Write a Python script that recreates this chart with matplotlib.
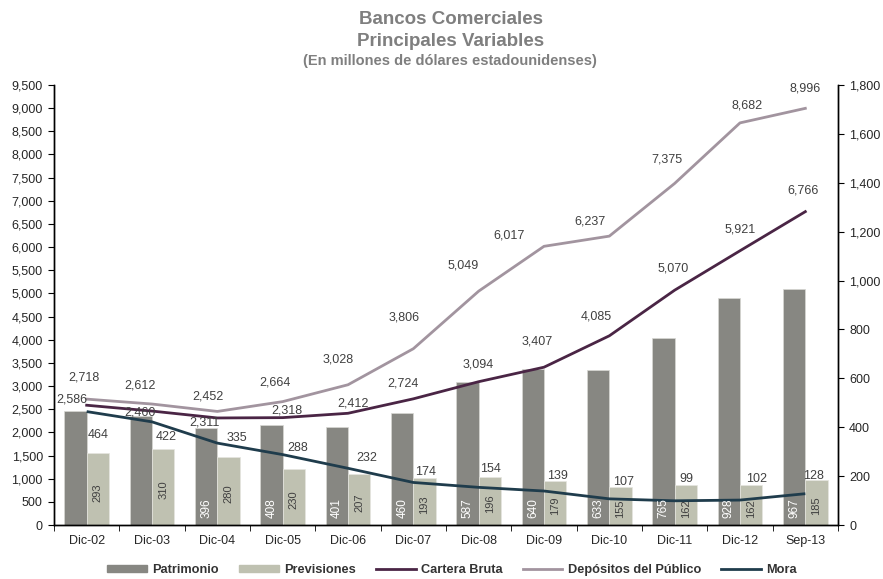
import matplotlib
matplotlib.use("Agg")
import matplotlib.pyplot as plt
import numpy as np
from matplotlib.patches import Patch
from matplotlib.lines import Line2D

plt.rcParams['font.family'] = ['Liberation Sans', 'DejaVu Sans']

categories = ["Dic-02", "Dic-03", "Dic-04", "Dic-05", "Dic-06", "Dic-07",
              "Dic-08", "Dic-09", "Dic-10", "Dic-11", "Dic-12", "Sep-13"]
patrimonio = [468, 445, 396, 408, 401, 460, 587, 640, 633, 765, 928, 967]
patrimonio_labels = [None, None, "396", "408", "401", "460", "587", "640", "633", "765", "928", "967"]
previsiones = [293, 310, 280, 230, 207, 193, 196, 179, 155, 162, 162, 185]
cartera = [2586, 2460, 2311, 2318, 2412, 2724, 3094, 3407, 4085, 5070, 5921, 6766]
depositos = [2718, 2612, 2452, 2664, 3028, 3806, 5049, 6017, 6237, 7375, 8682, 8996]
mora = [464, 422, 335, 288, 232, 174, 154, 139, 107, 99, 102, 128]

left_ticks = list(range(0, 9501, 500))
right_ticks = list(range(0, 1801, 200))

# label offsets (pixels) mimicking the original placement
cart_off = [(-15, 6), (-12, -1), (-13, -5), (4, 7), (5, 10), (-10, 15),
            (0, 17), (-7, 26), (-13, 19), (-2, 22), (0, 21), (-2, 21)]
dep_off = [(-3, 22), (-12, 19), (-9, 15), (-8, 19), (-10, 25), (-9, 31),
           (-16, 26), (-35, 11), (-19, 15), (-8, 24), (7, 17), (0, 20)]
mora_off = [(12, -23), (14, -15), (20, 5), (15, 7), (19, 10), (12, 10),
            (12, 18), (13, 15), (14, 17), (12, 22), (17, 21), (8, 18)]

C_PAT = "#878782"
C_PRE = "#bfc1b1"
C_CAR = "#4a2545"
C_DEP = "#a2949f"
C_MOR = "#1f3c4c"
TXT = "#404040"
FS = 9

fig = plt.figure(figsize=(8.83, 5.79), dpi=100)
ax = fig.add_axes([54/883, 1-525/579, (838-54)/883, (525-85)/579])
ax2 = ax.twinx()

x = np.arange(len(categories))
bw = 0.34

# bars + mora on right scale (primary axes, drawn first)
ax.bar(x - bw/2, patrimonio, bw, color=C_PAT, edgecolor="#d8d8d4", linewidth=0.5, zorder=2)
ax.bar(x + bw/2, previsiones, bw, color=C_PRE, edgecolor="#e6e6e0", linewidth=0.5, zorder=2)
ax.plot(x, mora, color=C_MOR, lw=2.0, zorder=3, solid_capstyle='butt')

for i, (v, lab) in enumerate(zip(patrimonio, patrimonio_labels)):
    if lab:
        ax.annotate(lab, (x[i] - bw/2, 0), xytext=(0, 7), textcoords='offset pixels',
                    rotation=90, ha='center', va='bottom', color='white', fontsize=8.5, zorder=4)
for i, v in enumerate(previsiones):
    ax.annotate(str(v), (x[i] + bw/2, v/2), xytext=(0, -3), textcoords='offset pixels',
                rotation=90, ha='center', va='center', color=TXT, fontsize=8, zorder=4)
for i, v in enumerate(mora):
    ax.annotate(str(v), (x[i], v), xytext=mora_off[i], textcoords='offset pixels',
                ha='center', va='center', color=TXT, fontsize=FS, zorder=5)

ax.set_ylim(0, 1800)
ax.set_yticks(right_ticks)
ax.set_yticklabels([f"{t:,}" for t in right_ticks])
ax.yaxis.tick_right()
ax.yaxis.set_label_position('right')

# lines on left scale (twin axes, drawn on top)
ax2.plot(x, depositos, color=C_DEP, lw=2.0, zorder=3)
ax2.plot(x, cartera, color=C_CAR, lw=2.0, zorder=3)
for i, v in enumerate(depositos):
    ax2.annotate(f"{v:,}", (x[i], v), xytext=dep_off[i], textcoords='offset pixels',
                 ha='center', va='center', color=TXT, fontsize=FS)
for i, v in enumerate(cartera):
    ax2.annotate(f"{v:,}", (x[i], v), xytext=cart_off[i], textcoords='offset pixels',
                 ha='center', va='center', color=TXT, fontsize=FS)
ax2.set_ylim(0, 9500)
ax2.set_yticks(left_ticks)
ax2.set_yticklabels([f"{t:,}" for t in left_ticks])
ax2.yaxis.tick_left()
ax2.yaxis.set_label_position('left')

ax.set_xlim(-0.5, len(categories) - 0.5)
ax.set_xticks(x)
ax.set_xticklabels(categories)
ax.set_xticks(np.arange(-0.5, len(categories), 1), minor=True)
ax.tick_params(axis='x', which='major', length=0, labelsize=FS, labelcolor="#262626", pad=7)
ax.tick_params(axis='x', which='minor', length=4, direction='out', color='black')
ax.tick_params(axis='y', length=4, direction='out', labelsize=FS, labelcolor="#262626", pad=4)
ax2.tick_params(axis='y', length=4, direction='out', labelsize=FS, labelcolor="#262626", pad=4)

for a in (ax, ax2):
    a.spines['top'].set_visible(False)
    for s in ('left', 'right', 'bottom'):
        a.spines[s].set_color('black')
        a.spines[s].set_linewidth(1.0)

fig.text(451/883, 1-20/579, "Bancos Comerciales", ha='center', va='center',
         fontsize=13.5, fontweight='bold', color="#7f7f7f")
fig.text(451/883, 1-41/579, "Principales Variables", ha='center', va='center',
         fontsize=13.5, fontweight='bold', color="#7f7f7f")
fig.text(450/883, 1-61/579, "(En millones de dólares estadounidenses)", ha='center', va='center',
         fontsize=10.5, fontweight='bold', color="#7f7f7f")

handles = [Patch(color=C_PAT), Patch(color=C_PRE),
           Line2D([], [], color=C_CAR, lw=2), Line2D([], [], color=C_DEP, lw=2),
           Line2D([], [], color=C_MOR, lw=2)]
labels = ["Patrimonio", "Previsiones", "Cartera Bruta", "Depósitos del Público", "Mora"]
leg = fig.legend(handles, labels, loc='center', bbox_to_anchor=(452/883, 1-570/579),
                 ncol=5, frameon=False, handlelength=3.1, handleheight=0.55, handletextpad=0.4,
                 columnspacing=1.6, prop={'weight': 'bold', 'size': 9.2})
for t in leg.get_texts():
    t.set_color("#333333")

fig.savefig("out.png", dpi=100)
